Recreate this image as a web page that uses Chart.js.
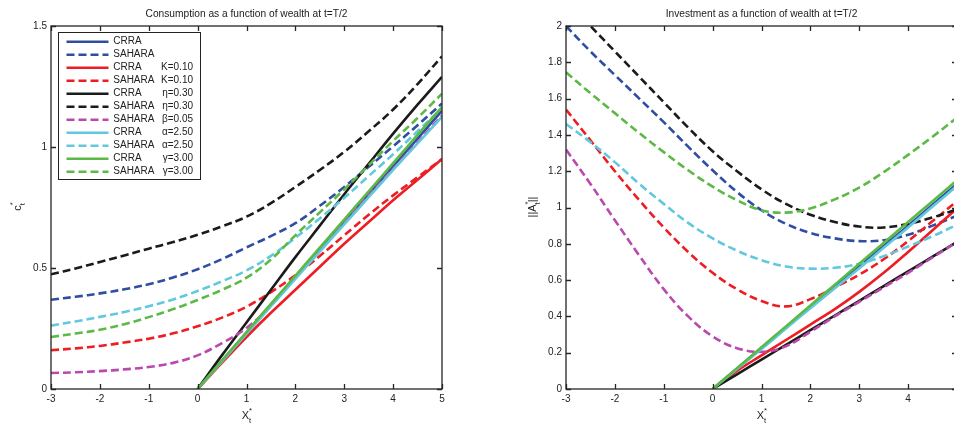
<!DOCTYPE html>
<html lang="en">
<head>
<meta charset="UTF-8">
<title>Consumption and investment as functions of wealth</title>
<script src="https://cdn.jsdelivr.net/npm/chart.js"></script>
<style>
  html, body { margin: 0; padding: 0; background: #fff; overflow: hidden; width: 954px; height: 425px; }
  .panel { position: absolute; top: 0; height: 425px; }
  #consPanel { left: 0; width: 470px; }
  #invPanel { left: 480px; width: 500px; }
</style>
</head>
<body>
<div class="panel" id="consPanel"><canvas id="consChart"></canvas></div>
<div class="panel" id="invPanel"><canvas id="invChart"></canvas></div>
<script>
// wealth grids
const saharaX = [-3, -2.5, -2, -1.5, -1, -0.5, 0, 0.5, 1, 1.5, 2, 2.5, 3, 3.5, 4, 4.5, 5];
const crraX = [0, 0.5, 1, 1.5, 2, 2.5, 3, 3.5, 4, 4.5, 5];
const xTicks = [-3, -2, -1, 0, 1, 2, 3, 4, 5];
const consYTicks = [0, 0.5, 1, 1.5];
const invYTicks = [0, 0.2, 0.4, 0.6, 0.8, 1, 1.2, 1.4, 1.6, 1.8, 2];

// consumption c*_t
const consCrraBase = [0, 0.116, 0.232, 0.347, 0.462, 0.576, 0.69, 0.805, 0.92, 1.035, 1.15];
const consSaharaBase = [0.369, 0.381, 0.395, 0.412, 0.433, 0.461, 0.495, 0.537, 0.585, 0.632, 0.685, 0.757, 0.835, 0.918, 1.003, 1.09, 1.18];
const consCrraK = [0, 0.109, 0.215, 0.315, 0.41, 0.505, 0.6, 0.69, 0.78, 0.865, 0.95];
const consSaharaK = [0.16, 0.168, 0.178, 0.192, 0.208, 0.23, 0.259, 0.295, 0.34, 0.4, 0.47, 0.55, 0.635, 0.72, 0.8, 0.875, 0.95];
const consCrraEta = [0, 0.14, 0.275, 0.41, 0.545, 0.675, 0.805, 0.93, 1.055, 1.175, 1.29];
const consSaharaEta = [0.474, 0.498, 0.525, 0.552, 0.58, 0.607, 0.637, 0.672, 0.712, 0.768, 0.835, 0.905, 0.98, 1.065, 1.155, 1.26, 1.375];
const consSaharaBeta = [0.066, 0.069, 0.074, 0.081, 0.091, 0.108, 0.139, 0.19, 0.252, 0.345, 0.46, 0.575, 0.69, 0.8, 0.91, 1.02, 1.13];
const consCrraAlpha = [0, 0.114, 0.228, 0.342, 0.455, 0.568, 0.68, 0.793, 0.905, 1.015, 1.125];
const consSaharaAlpha = [0.262, 0.279, 0.298, 0.318, 0.342, 0.37, 0.405, 0.445, 0.49, 0.55, 0.625, 0.705, 0.79, 0.88, 0.97, 1.065, 1.16];
const consCrraGamma = [0, 0.118, 0.235, 0.352, 0.468, 0.584, 0.7, 0.817, 0.933, 1.05, 1.165];
const consSaharaGamma = [0.215, 0.229, 0.245, 0.268, 0.297, 0.33, 0.368, 0.41, 0.46, 0.535, 0.635, 0.73, 0.825, 0.925, 1.025, 1.12, 1.22];

// investment ||A*_t||
const invCrraBase = [0, 0.113, 0.225, 0.338, 0.45, 0.563, 0.675, 0.788, 0.9, 1.015, 1.13];
const invSaharaBase = [2.0, 1.86, 1.73, 1.6, 1.47, 1.335, 1.205, 1.085, 0.985, 0.91, 0.86, 0.83, 0.815, 0.82, 0.85, 0.9, 0.955];
const invCrraK = [0, 0.1, 0.185, 0.27, 0.355, 0.44, 0.535, 0.64, 0.755, 0.875, 0.995];
const invSaharaK = [1.54, 1.37, 1.2, 1.04, 0.89, 0.755, 0.64, 0.55, 0.485, 0.455, 0.495, 0.56, 0.63, 0.715, 0.815, 0.925, 1.035];
const invCrraEta = [0, 0.081, 0.162, 0.243, 0.324, 0.405, 0.486, 0.567, 0.648, 0.729, 0.81];
const invSaharaEta = [2.14, 2.0, 1.86, 1.72, 1.58, 1.44, 1.31, 1.2, 1.1, 1.02, 0.96, 0.92, 0.895, 0.89, 0.91, 0.945, 0.99];
const invSaharaBeta = [1.32, 1.13, 0.93, 0.735, 0.55, 0.4, 0.29, 0.225, 0.205, 0.235, 0.315, 0.4, 0.48, 0.56, 0.64, 0.725, 0.81];
const invCrraAlpha = [0, 0.11, 0.22, 0.333, 0.445, 0.555, 0.665, 0.778, 0.89, 1.005, 1.12];
const invSaharaAlpha = [1.46, 1.36, 1.25, 1.13, 1.02, 0.915, 0.83, 0.762, 0.71, 0.675, 0.663, 0.668, 0.69, 0.732, 0.785, 0.842, 0.905];
const invCrraGamma = [0, 0.115, 0.23, 0.345, 0.46, 0.575, 0.69, 0.805, 0.92, 1.035, 1.15];
const invSaharaGamma = [1.745, 1.63, 1.52, 1.41, 1.305, 1.205, 1.115, 1.04, 0.985, 0.972, 0.995, 1.045, 1.11, 1.195, 1.29, 1.39, 1.495];

const BLUE = '#2f4ea2', RED = '#ee1d24', BLACK = '#1b1b1b', MAGENTA = '#bb48ad', CYAN = '#62c8de', GREEN = '#5cb946';
const FONT = "'Liberation Sans', Arial, sans-serif";

// one entry per legend row, same order for both panels
const series = [
  { name: 'CRRA',   param: '',       color: BLUE,    dashed: false },
  { name: 'SAHARA', param: '',       color: BLUE,    dashed: true },
  { name: 'CRRA',   param: 'K=0.10', color: RED,     dashed: false },
  { name: 'SAHARA', param: 'K=0.10', color: RED,     dashed: true },
  { name: 'CRRA',   param: 'η=0.30', color: BLACK,   dashed: false },
  { name: 'SAHARA', param: 'η=0.30', color: BLACK,   dashed: true },
  { name: 'SAHARA', param: 'β=0.05', color: MAGENTA, dashed: true },
  { name: 'CRRA',   param: 'α=2.50', color: CYAN,    dashed: false },
  { name: 'SAHARA', param: 'α=2.50', color: CYAN,    dashed: true },
  { name: 'CRRA',   param: 'γ=3.00', color: GREEN,   dashed: false },
  { name: 'SAHARA', param: 'γ=3.00', color: GREEN,   dashed: true }
];

function buildDatasets(values) {
  return series.map((s, i) => {
    const xs = s.dashed ? saharaX : crraX;
    return {
      label: s.name + (s.param ? ' ' + s.param : ''),
      data: values[i].map((v, j) => ({ x: xs[j], y: v })),
      borderColor: s.color,
      backgroundColor: s.color,
      borderDash: s.dashed ? [8, 4] : [],
      borderWidth: 2.6,
      pointRadius: 0,
      fill: false,
      tension: 0.4,
      order: -i   // later series drawn on top
    };
  });
}

// draw a run of text pieces with optional super/subscripts, centred on (0,0) in the current frame
function drawRich(ctx, parts, size) {
  let w = 0;
  parts.forEach(p => {
    ctx.font = (p.sup || p.sub ? size * 0.7 : size) + 'px ' + FONT;
    w += p.adv !== undefined ? p.adv : ctx.measureText(p.t).width;
  });
  let cx = -w / 2;
  parts.forEach(p => {
    ctx.font = (p.sup || p.sub ? size * 0.7 : size) + 'px ' + FONT;
    const dy = p.sup ? -size * 0.45 : p.sub ? size * 0.45 : 0;
    ctx.fillText(p.t, cx, dy);
    cx += p.adv !== undefined ? p.adv : ctx.measureText(p.t).width;
  });
}

const framePlugin = {
  id: 'frame',
  afterDraw(chart, args, o) {
    const { ctx, chartArea: a, scales: { x, y } } = chart;
    ctx.save();
    ctx.strokeStyle = '#262626';
    ctx.lineWidth = 1.3;
    ctx.beginPath();
    x.ticks.forEach(t => {
      const px = Math.round(x.getPixelForValue(t.value)) + 0.5;
      ctx.moveTo(px, a.top); ctx.lineTo(px, a.top + 5);
      ctx.moveTo(px, a.bottom); ctx.lineTo(px, a.bottom - 5);
    });
    y.ticks.forEach(t => {
      const py = Math.round(y.getPixelForValue(t.value)) + 0.5;
      ctx.moveTo(a.left, py); ctx.lineTo(a.left + 5, py);
      ctx.moveTo(a.right, py); ctx.lineTo(a.right - 5, py);
    });
    ctx.stroke();
    ctx.strokeRect(a.left, a.top, a.width, a.height);

    ctx.fillStyle = '#222';
    ctx.textBaseline = 'middle';
    ctx.textAlign = 'center';
    ctx.font = '10.2px ' + FONT;
    ctx.fillText(o.title, (a.left + a.right) / 2, 14);

    // x axis title X*_t
    ctx.textAlign = 'left';
    ctx.save();
    ctx.translate((a.left + a.right) / 2, 416);
    drawRich(ctx, [{ t: 'X' }, { t: '*', sup: true, adv: 0 }, { t: 't', sub: true }], 11);
    ctx.restore();

    // y axis title, rotated
    ctx.save();
    ctx.translate(o.yTitleX, 207);
    ctx.rotate(-Math.PI / 2);
    drawRich(ctx, o.yTitle, 11);
    ctx.restore();

    if (o.legend) {
      const ds = chart.data.datasets;
      const L = 58.5, T = 32.5, R = 200.5, B = 179.5;
      ctx.fillStyle = '#fff';
      ctx.fillRect(L, T, R - L, B - T);
      ctx.lineWidth = 1;
      ctx.strokeStyle = '#222';
      ctx.strokeRect(L, T, R - L, B - T);
      ctx.font = '10px ' + FONT;
      series.forEach((s, i) => {
        const ry = 41.7 + i * 13;
        ctx.beginPath();
        ctx.strokeStyle = ds[i].borderColor;
        ctx.lineWidth = 2.6;
        ctx.setLineDash(s.dashed ? [8, 4] : []);
        ctx.moveTo(66.5, ry); ctx.lineTo(108.5, ry);
        ctx.stroke();
        ctx.setLineDash([]);
        ctx.fillStyle = '#222';
        ctx.textAlign = 'left';
        ctx.fillText(s.name, 113.3, ry);
        ctx.textAlign = 'right';
        ctx.fillText(s.param, 193, ry);
      });
    }
    ctx.restore();
  }
};

function makeChart(id, values, cfg) {
  return new Chart(document.getElementById(id), {
    type: 'line',
    data: { datasets: buildDatasets(values) },
    options: {
      responsive: true,
      maintainAspectRatio: false,
      animation: false,
      layout: { padding: { top: 26, right: cfg.padRight, bottom: 0, left: 0 } },
      plugins: {
        legend: { display: false },
        tooltip: { enabled: false },
        frame: cfg.frame
      },
      scales: {
        x: {
          type: 'linear', min: -3, max: 5,
          afterBuildTicks: s => { s.ticks = xTicks.map(v => ({ value: v })); },
          afterFit: s => { s.height = 36; },
          grid: { display: false, drawTicks: false },
          border: { display: false },
          ticks: { padding: 4, color: '#222', font: { family: FONT, size: 10 }, callback: v => String(v) }
        },
        y: {
          type: 'linear', min: 0, max: cfg.yMax,
          afterBuildTicks: s => { s.ticks = cfg.yTicks.map(v => ({ value: v })); },
          afterFit: s => { s.width = cfg.yWidth; },
          grid: { display: false, drawTicks: false },
          border: { display: false },
          ticks: { padding: 4, color: '#222', font: { family: FONT, size: 10 }, callback: v => String(v) }
        }
      }
    },
    plugins: [framePlugin]
  });
}

makeChart('consChart', [
  consCrraBase, consSaharaBase, consCrraK, consSaharaK, consCrraEta, consSaharaEta,
  consSaharaBeta, consCrraAlpha, consSaharaAlpha, consCrraGamma, consSaharaGamma
], {
  padRight: 28, yWidth: 51, yMax: 1.5, yTicks: consYTicks,
  frame: {
    title: 'Consumption as a function of wealth at t=T/2',
    yTitleX: 18,
    yTitle: [{ t: 'c' }, { t: '*', sup: true, adv: 0 }, { t: 't', sub: true }],
    legend: true
  }
});

makeChart('invChart', [
  invCrraBase, invSaharaBase, invCrraK, invSaharaK, invCrraEta, invSaharaEta,
  invSaharaBeta, invCrraAlpha, invSaharaAlpha, invCrraGamma, invSaharaGamma
], {
  padRight: 23, yWidth: 86, yMax: 2, yTicks: invYTicks,
  frame: {
    title: 'Investment as a function of wealth at t=T/2',
    yTitleX: 53,
    yTitle: [{ t: '||A' }, { t: '*', sup: true, adv: 0 }, { t: 't', sub: true }, { t: '||' }],
    legend: false
  }
});
</script>
</body>
</html>
